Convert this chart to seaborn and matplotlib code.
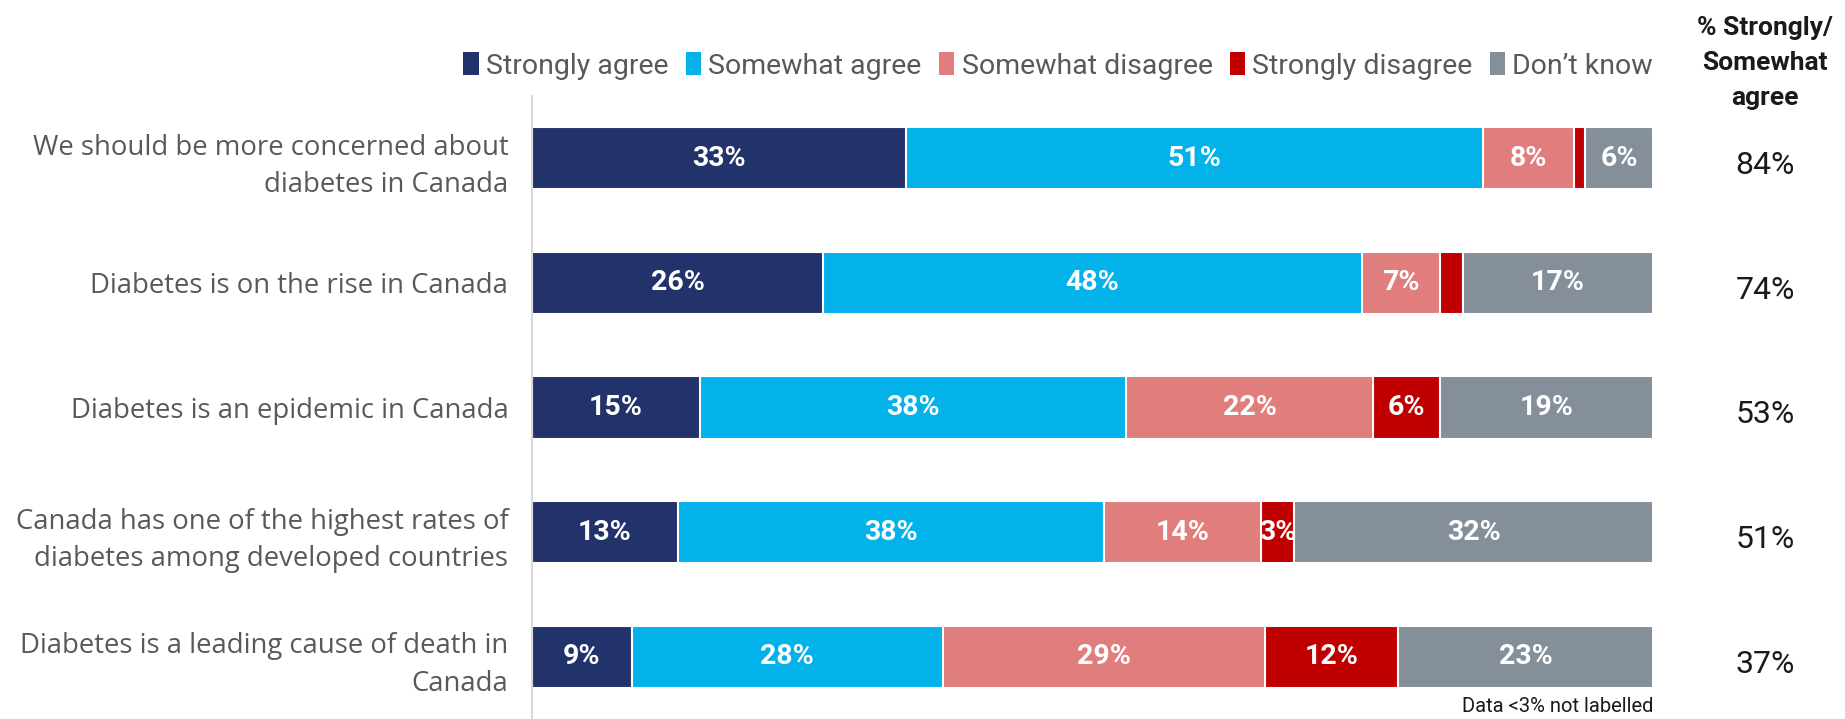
import matplotlib
matplotlib.use("Agg")
import matplotlib.pyplot as plt
from matplotlib.patches import Patch
from matplotlib.transforms import blended_transform_factory
import numpy as np
import pandas as pd
import seaborn as sns

# Survey statements (top to bottom)
statements = [
    "We should be more concerned about\ndiabetes in Canada",
    "Diabetes is on the rise in Canada",
    "Diabetes is an epidemic in Canada",
    "Canada has one of the highest rates of\ndiabetes among developed countries",
    "Diabetes is a leading cause of death in\nCanada",
]

# Response categories and their shares (%)
responses = ["Strongly agree", "Somewhat agree", "Somewhat disagree",
             "Strongly disagree", "Don\u2019t know"]
strongly_agree = [33, 26, 15, 13, 9]
somewhat_agree = [51, 48, 38, 38, 28]
somewhat_disagree = [8, 7, 22, 14, 29]
strongly_disagree = [1, 2, 6, 3, 12]
dont_know = [6, 17, 19, 32, 23]

# Net agreement column
net_agree = [84, 74, 53, 51, 37]

colors = ["#22326A", "#04B2EA", "#E07E7E", "#C00000", "#848F9A"]

sns.set_theme(style="white")
plt.rcParams["font.family"] = ["Open Sans", "DejaVu Sans"]
NARROW = ["Roboto", "DejaVu Sans"]

df = pd.DataFrame({
    "statement": statements,
    responses[0]: strongly_agree,
    responses[1]: somewhat_agree,
    responses[2]: somewhat_disagree,
    responses[3]: strongly_disagree,
    responses[4]: dont_know,
})

# 100% stacked: normalise each row to its total
vals = df[responses].to_numpy(dtype=float)
shares = vals / vals.sum(axis=1, keepdims=True) * 100
cum = np.cumsum(shares, axis=1)
for i, r in enumerate(responses):
    df["cum_" + r] = cum[:, i]

fig = plt.figure(figsize=(18.45, 7.19), dpi=100)
ax = fig.add_axes([0.2883, 0.0, 0.896 - 0.2883, 0.8665])

# Draw the stacks back-to-front so each segment's cumulative bar shows through
for i in reversed(range(len(responses))):
    sns.barplot(data=df, x="cum_" + responses[i], y="statement",
                color=colors[i], saturation=1, width=0.5,
                edgecolor="white", linewidth=1.5, orient="h", ax=ax)

# Segment labels (values under 3% left unlabelled)
for row in range(len(statements)):
    for i in range(len(responses)):
        v = vals[row, i]
        if v < 3:
            continue
        xc = cum[row, i] - shares[row, i] / 2
        ax.text(xc, row, f"{int(v)}%", ha="center", va="center",
                color="white", fontsize=20.5, fontweight="bold",
                family=NARROW)

ax.set_xlim(0, 100)
ax.set_ylim(4.5, -0.5)
ax.set_xlabel("")
ax.set_ylabel("")
ax.set_xticks([])
ax.tick_params(axis="y", length=0, pad=17, labelsize=19.8,
               labelcolor="#595959")
for t in ax.get_yticklabels():
    t.set_linespacing(1.45)
for s in ["top", "right", "bottom"]:
    ax.spines[s].set_visible(False)
ax.spines["left"].set_color("#D9D9D9")
ax.spines["left"].set_linewidth(1.5)

# Legend across the top, right-aligned with the bars
handles = [Patch(facecolor=c, edgecolor="none", label=r)
           for c, r in zip(colors, responses)]
leg = fig.legend(handles=handles, loc="center right", ncol=5,
                 bbox_to_anchor=(0.896, 1 - 66 / 719), frameon=False,
                 prop={"family": NARROW, "size": 20.5},
                 handlelength=0.55, handleheight=0.85, handletextpad=0.25,
                 columnspacing=0.6, borderaxespad=0, borderpad=0)
for t in leg.get_texts():
    t.set_color("#595959")

# Net agreement column
x_col = 1765 / 1845
fig.text(x_col, 1 - 63 / 719, "% Strongly/\nSomewhat\nagree", ha="center",
         va="center", fontsize=19, fontweight="bold", family=NARROW,
         color="#1A1A1A", linespacing=1.6)
col_tf = blended_transform_factory(fig.transFigure, ax.transData)
for row, v in enumerate(net_agree):
    ax.text(x_col, row + 0.06, f"{v}%", transform=col_tf,
            ha="center", va="center", fontsize=23, family=NARROW,
            color="#1A1A1A")

fig.text(0.896, 1 - 707 / 719, "Data <3% not labelled", ha="right",
         va="center", fontsize=14.5, family=NARROW, color="#1A1A1A")

fig.savefig("out.png", dpi=100, facecolor="white")
